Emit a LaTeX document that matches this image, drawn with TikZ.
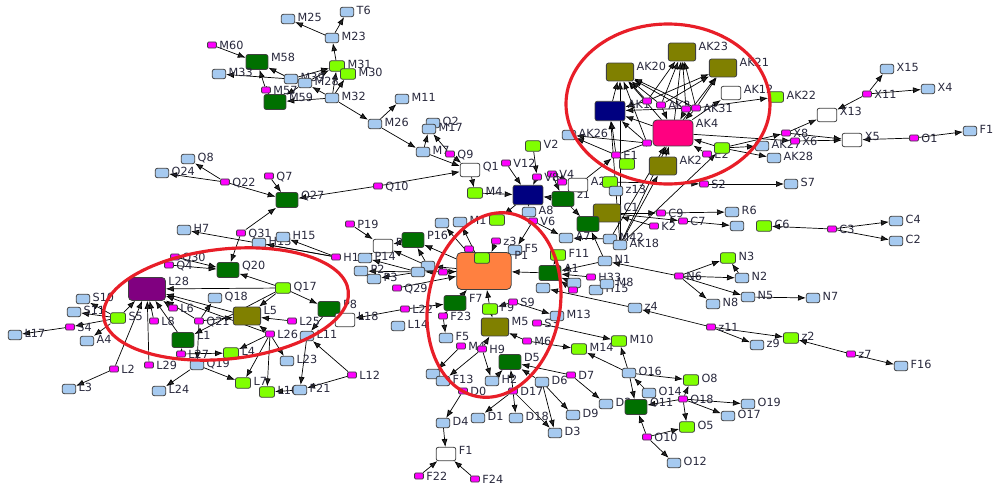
\documentclass[tikz,border=0pt]{standalone}
\usepackage{fontspec}
\setmainfont{DejaVu Sans}
\usetikzlibrary{arrows.meta,backgrounds}

\definecolor{nodeblue}{RGB}{166,202,240}
\definecolor{nodepink}{RGB}{255,0,255}
\definecolor{nodelime}{RGB}{128,255,0}
\definecolor{nodegreen}{RGB}{0,112,0}
\definecolor{nodeolive}{RGB}{128,128,0}
\definecolor{nodenavy}{RGB}{0,0,128}
\definecolor{nodeak}{RGB}{255,0,128}
\definecolor{nodeorange}{RGB}{255,128,64}
\definecolor{nodepurple}{RGB}{128,0,128}
\definecolor{nodeedge}{RGB}{64,64,64}
\definecolor{labtext}{RGB}{40,40,60}
\definecolor{ringred}{RGB}{232,30,40}

\tikzset{
  box/.style={draw=nodeedge, rectangle, rounded corners=1.2pt, inner sep=0pt, line width=0.45pt},
  bl/.style={box, fill=nodeblue, minimum width=7.6pt, minimum height=5.4pt},
  pk/.style={box, fill=nodepink, rounded corners=0.6pt, minimum width=5pt, minimum height=3.5pt},
  lm/.style={box, fill=nodelime, minimum width=8.6pt, minimum height=6pt},
  dg/.style={box, fill=nodegreen, minimum width=12.5pt, minimum height=8.5pt},
  ol/.style={box, fill=nodeolive, minimum width=15.5pt, minimum height=10.2pt},
  wh/.style={box, fill=white, minimum width=11.2pt, minimum height=7.6pt},
  nv/.style={box, fill=nodenavy, minimum width=17pt, minimum height=11pt},
  akp/.style={box, fill=nodeak, rounded corners=2pt, minimum width=22.7pt, minimum height=14.7pt},
  orn/.style={box, fill=nodeorange, rounded corners=2.5pt, minimum width=31pt, minimum height=21pt},
  pu/.style={box, fill=nodepurple, rounded corners=2pt, minimum width=21pt, minimum height=13pt},
  lb/.style={anchor=north west, inner sep=0.3pt, xshift=1pt, yshift=0.8pt,
    font=\fontsize{6.4}{7}\selectfont, text=labtext},
  lab/.style={label={[lb]north east:#1}},
  link/.style={draw=black!85, line width=0.4pt, -{Latex[length=4.5pt,width=3.4pt]}},
  ring/.style={draw=ringred, line width=1.8pt}
}

\begin{document}
\begin{tikzpicture}[x=0.02cm,y=-0.02cm]
  \useasboundingbox (0,0) rectangle (995,487);
  % M and Q nodes, top left
  \draw
    (212,45) node[pk,lab=M60] (m60){}
    (257,62) node[dg,lab=M58] (m58){}
    (219,74) node[bl,lab=M33] (m33){}
    (288,19) node[bl,lab=M25] (m25){}
    (347,12) node[bl,lab=T6] (t6){}
    (332,38) node[bl,lab=M23] (m23){}
    (337,66) node[lm,lab=M31] (m31){}
    (348,74) node[lm,lab=M30] (m30){}
    (291,79) node[bl,lab=M39] (m39){}
    (305,83) node[bl,lab=M28] (m28){}
    (266,90) node[pk,lab=M57] (m57){}
    (275,102) node[dg,lab=M59] (m59){}
    (332,98) node[bl,lab=M32] (m32){}
    (402,99) node[bl,lab=M11] (m11){}
    (375,124) node[bl,lab=M26] (m26){}
    (433,123) node[bl,lab=Q2] (q2){}
    (429,129) node[bl,lab=M17] (m17){}
    (423,152) node[bl,lab=M7] (m7){}
    (450,154) node[pk,lab=Q9] (q9){}
    (470,170) node[wh,lab=Q1] (q1){}
    (475,193) node[lm,lab=M4] (m4){}
    (378,186) node[pk,lab=Q10] (q10){}
    (287,200) node[dg,lab=Q27] (q27){}
    (269,176) node[pk,lab=Q7] (q7){}
    (225,182) node[pk,lab=Q22] (q22){}
    (162,173) node[bl,lab=Q24] (q24){}
    (188,159) node[bl,lab=Q8] (q8){}
    (241,233) node[pk,lab=Q31] (q31){}
    (184,230) node[bl,lab=H7] (h7){}
    (336,257) node[pk,lab=H1] (h1){}
    (259,243) node[bl,lab=H13] (h13){}
    (283,237) node[bl,lab=H15] (h15){};
  % P nodes and centre
  \draw
    (350,224) node[pk,lab=P19] (p19){}
    (383,246) node[wh,lab=P] (pw){}
    (413,240) node[dg,lab=P16] (p16){}
    (365,258) node[bl,lab=P14] (p14){}
    (361,271) node[bl,lab=P2] (p2){}
    (374,279) node[bl,lab=P3] (p3){}
    (397,288) node[pk,lab=Q29] (q29){}
    (428,266) node[bl] (ua){}
    (418,272) node[bl] (ub){}
    (442,223) node[bl] (uc){}
    (460,222) node[bl,lab=M1] (m1){}
    (497,220) node[lm] (ud){}
    (496,241) node[pk,lab=z3] (z3){}
    (469,249) node[pk] (ue){}
    (443,272) node[pk] (ug){}
    (515,250) node[bl,lab=F5] (f5b){}
    (484,271) node[orn,lab=P1] (p1){}
    (482,258) node[lm] (uf){}
    (405,309) node[pk,lab=L22] (l22){}
    (443,316) node[pk,lab=F23] (f23){}
    (455,303) node[dg,lab=F7] (f7){}
    (490,309) node[lm,lab=F9] (f9){}
    (513,302) node[pk,lab=S9] (s9){}
    (495,327) node[ol,lab=M5] (m5){}
    (537,323) node[pk,lab=S3] (s3){}
    (557,316) node[bl,lab=M13] (m13){}
    (398,326) node[bl,lab=L14] (l14){};
  % L and S nodes, left
  \draw
    (283,288) node[lm,lab=Q17] (q17){}
    (329,309) node[dg,lab=P8] (p8){}
    (345,320) node[wh,lab=L18] (l18){}
    (292,321) node[pk,lab=L25] (l25){}
    (247,316) node[ol,lab=L5] (l5){}
    (228,270) node[dg,lab=Q20] (q20){}
    (175,257) node[pk,lab=Q30] (q30){}
    (169,265) node[pk,lab=Q4] (q4){}
    (147,289) node[pu,lab=L28] (l28){}
    (83,299) node[bl,lab=S10] (s10){}
    (74,312) node[bl,lab=S11] (s11){}
    (118,318) node[lm,lab=S5] (s5){}
    (173,308) node[pk,lab=L6] (l6){}
    (154,321) node[pk,lab=L8] (l8){}
    (215,298) node[bl,lab=Q18] (q18){}
    (199,321) node[pk,lab=Q21] (q21){}
    (70,327) node[pk,lab=S4] (s4){}
    (15,335) node[bl,lab=L17] (l17){}
    (87,341) node[bl,lab=A4] (a4){}
    (183,340) node[dg,lab=L1] (l1){}
    (181,354) node[pk,lab=L27] (l27){}
    (231,353) node[lm,lab=L4] (l4){}
    (197,365) node[bl,lab=Q19] (q19){}
    (149,365) node[pk,lab=L29] (l29){}
    (114,369) node[pk,lab=L2] (l2){}
    (69,389) node[bl,lab=L3] (l3){}
    (159,391) node[bl,lab=L24] (l24){}
    (243,383) node[lm,lab=L7] (l7){}
    (267,392) node[lm,lab=L10] (l10){}
    (270,334) node[pk,lab=L26] (l26){}
    (307,336) node[bl,lab=L11] (l11){}
    (287,361) node[bl,lab=L23] (l23){}
    (352,375) node[pk,lab=L12] (l12){}
    (300,390) node[bl,lab=F21] (f21){};
  % D, O and z nodes, bottom
  \draw
    (446,338) node[bl,lab=F5] (f5){}
    (461,346) node[pk,lab=M4] (m4b){}
    (482,349) node[pk,lab=H9] (h9){}
    (433,374) node[bl] (uh){}
    (443,381) node[bl,lab=F13] (f13){}
    (463,391) node[pk,lab=D0] (d0){}
    (443,423) node[bl,lab=D4] (d4){}
    (446,454) node[wh,lab=F1] (f1){}
    (419,476) node[pk,lab=F22] (f22){}
    (475,479) node[pk,lab=F24] (f24){}
    (478,418) node[bl,lab=D1] (d1){}
    (492,381) node[bl,lab=H2] (h2){}
    (527,341) node[pk,lab=M6] (m6){}
    (510,362) node[dg,lab=D5] (d5){}
    (571,375) node[pk,lab=D7] (d7){}
    (606,404) node[bl,lab=D2] (d2){}
    (542,382) node[bl,lab=D6] (d6){}
    (573,415) node[bl,lab=D9] (d9){}
    (555,433) node[bl,lab=D3] (d3){}
    (513,391) node[pk,lab=D17] (d17){}
    (516,418) node[bl,lab=D18] (d18){}
    (579,349) node[lm,lab=M14] (m14){}
    (619,341) node[lm,lab=M10] (m10){}
    (629,373) node[bl,lab=O16] (o16){}
    (636,407) node[dg,lab=O11] (o11){}
    (691,380) node[lm,lab=O8] (o8){}
    (649,393) node[bl,lab=O14] (o14){}
    (683,399) node[pk,lab=O18] (o18){}
    (687,427) node[lm,lab=O5] (o5){}
    (748,404) node[bl,lab=O19] (o19){}
    (728,416) node[bl,lab=O17] (o17){}
    (647,437) node[pk,lab=O10] (o10){}
    (674,463) node[bl,lab=O12] (o12){}
    (711,327) node[pk,lab=z11] (z11){}
    (757,345) node[bl,lab=z9] (z9){}
    (791,338) node[lm,lab=z2] (z2){}
    (851,354) node[pk,lab=z7] (z7){}
    (901,366) node[bl,lab=F16] (f16){}
    (635,308) node[bl,lab=z4] (z4){};
  % V, A, C and N nodes, centre right
  \draw
    (506,163) node[pk,lab=V12] (v12){}
    (533,146) node[lm,lab=V2] (v2){}
    (552,174) node[pk,lab=V4] (v4){}
    (537,177) node[pk,lab=V8] (v8){}
    (562,182) node[pk] (ui){}
    (528,195) node[nv] (nv){}
    (563,199) node[dg,lab=z1] (z1){}
    (578,185) node[wh,lab=A2] (a2){}
    (610,182) node[lm] (uj){}
    (616,191) node[bl,lab=z13] (z13){}
    (529,212) node[bl,lab=A8] (a8){}
    (533,221) node[pk,lab=V6] (v6){}
    (607,213) node[ol,lab=C1] (c1){}
    (588,224) node[dg] (uk){}
    (566,238) node[bl,lab=A7] (a7){}
    (610,239) node[bl,lab=M42] (m42){}
    (620,245) node[bl,lab=AK18] (ak18){}
    (558,255) node[lm,lab=F11] (f11){}
    (605,261) node[bl,lab=N1] (n1){}
    (550,273) node[dg,lab=A1] (a1){}
    (591,277) node[pk,lab=H33] (h33){}
    (574,283) node[bl] (ul){}
    (596,290) node[bl,lab=H15] (h15b){}
    (607,284) node[bl,lab=M8] (m8){}
    (573,290) node[pk] (um){}
    (543,288) node[bl] (un){}
    (661,213) node[pk,lab=C9] (c9){}
    (732,212) node[bl,lab=R6] (r6){}
    (654,226) node[pk,lab=K2] (k2){}
    (683,221) node[pk,lab=C7] (c7){}
    (737,226) node[bl] (uo){}
    (764,226) node[lm,lab=C6] (c6){}
    (832,229) node[pk,lab=C3] (c3){}
    (896,221) node[bl,lab=C4] (c4){}
    (896,241) node[bl,lab=C2] (c2){}
    (704,184) node[pk,lab=S2] (s2){}
    (791,184) node[bl,lab=S7] (s7){}
    (679,276) node[pk,lab=N6] (n6){}
    (728,258) node[lm,lab=N3] (n3){}
    (742,278) node[bl,lab=N2] (n2){}
    (713,304) node[bl,lab=N8] (n8){}
    (748,297) node[bl,lab=N5] (n5){}
    (813,298) node[bl,lab=N7] (n7){};
  % AK and X nodes, top right
  \draw
    (682,52) node[ol,lab=AK23] (ak23){}
    (620,72) node[ol,lab=AK20] (ak20){}
    (723,68) node[ol,lab=AK21] (ak21){}
    (731,93) node[wh,lab=AK12] (ak12){}
    (776,97) node[lm,lab=AK22] (ak22){}
    (610,111) node[nv,lab=AK1] (ak1){}
    (647,101) node[pk] (ua1){}
    (661,105) node[pk,lab=AK3] (ak3){}
    (686,109) node[pk] (ua2){}
    (696,108) node[pk,lab=AK31] (ak31){}
    (673,133) node[akp,lab=AK4] (ak4){}
    (569,135) node[bl,lab=AK26] (ak26){}
    (647,143) node[pk] (ua3){}
    (616,155) node[pk,lab=E1] (e1){}
    (707,154) node[pk,lab=E2] (e2){}
    (722,148) node[lm] (ua4){}
    (762,146) node[bl,lab=AK27] (ak27){}
    (774,158) node[bl,lab=AK28] (ak28){}
    (663,166) node[ol,lab=AK2] (ak2){}
    (627,164) node[lm] (ua5){}
    (786,133) node[pk,lab=X8] (x8){}
    (795,141) node[pk,lab=X6] (x6){}
    (827,115) node[wh,lab=X13] (x13){}
    (867,94) node[pk,lab=X11] (x11){}
    (887,69) node[bl,lab=X15] (x15){}
    (928,89) node[bl,lab=X4] (x4){}
    (852,140) node[wh,lab=X5] (x5){}
    (914,138) node[pk,lab=O1] (o1){}
    (970,131) node[bl,lab=F1] (f1b){};
  \begin{scope}[on background layer,link]
    % top left
    \draw (m60) to (m58);
    \draw (m39) to (m58);
    \draw (m57) to (m58);
    \draw (m39) to (m33);
    \draw (m57) to (m59);
    \draw (m32) to (m59);
    \draw (m28) to (m59);
    \draw (m32) to (m28);
    \draw (m32) to (m31);
    \draw (m32) to (m30);
    \draw (m39) to (m31);
    \draw (m28) to (m31);
    \draw (m31) to (m23);
    \draw (m23) to (m25);
    \draw (m23) to (t6);
    \draw (m32) to (m26);
    \draw (m26) to (m11);
    \draw (m26) to (m7);
    \draw (m7) to (m17);
    \draw (q9) to (m17);
    \draw (m7) to (q1);
    \draw (q9) to (q1);
    \draw (q1) to (m4);
    \draw (q10) to (q27);
    \draw (q10) to (q1);
    \draw (q7) to (q27);
    \draw (q22) to (q27);
    \draw (q22) to (q24);
    \draw (q22) to (q8);
    \draw (q31) to (q27);
    \draw (q31) to (q20);
    \draw (h1) to (h7);
    \draw (h1) to (h15);
    \draw (h1) to (h13);
    \draw (q4) to (q20);
    \draw (q30) to (q20);
    \draw (q17) to (q20);
    % centre
    \draw (p19) to (pw);
    \draw (p16) to (pw);
    \draw (p14) to (pw);
    \draw (ua) to (pw);
    \draw (ua) to (p16);
    \draw (ub) to (p14);
    \draw (ub) to (p2);
    \draw (ub) to (p3);
    \draw (p1) to (p16);
    \draw (p1) to (ua);
    \draw (p1) to (ub);
    \draw (p1) to (uc);
    \draw (p1) to (m1);
    \draw (nv) to (ud);
    \draw (q29) to (p1);
    \draw (ug) to (p1);
    \draw (ue) to (p1);
    \draw (z3) to (p1);
    \draw (v6) to (f5b);
    \draw (l22) to (l18);
    \draw (l22) to (f7);
    \draw (f23) to (f7);
    \draw (f7) to (p1);
    \draw (f9) to (p1);
    \draw (s9) to (f9);
    \draw (s9) to (m13);
    \draw (f23) to (f5);
    \draw (f9) to (m5);
    \draw (h9) to (m5);
    \draw (m6) to (m5);
    \draw (m4b) to (uh);
    \draw (h9) to (f13);
    \draw (h9) to (h2);
    \draw (a1) to (p1);
    \draw (f11) to (a1);
    \draw (n1) to (a1);
    \draw (h33) to (a1);
    \draw (ul) to (a1);
    \draw (um) to (a1);
    \draw (z4) to (un);
    % bottom
    \draw (d0) to (d4);
    \draw (d4) to (f1);
    \draw (f22) to (f1);
    \draw (f24) to (f1);
    \draw (d17) to (d1);
    \draw (d17) to (d18);
    \draw (d17) to (d3);
    \draw (d17) to (d5);
    \draw (d7) to (d5);
    \draw (d6) to (d5);
    \draw (d6) to (d9);
    \draw (d6) to (d3);
    \draw (d7) to (d2);
    \draw (h2) to (d5);
    \draw (s3) to (m10);
    \draw (m6) to (m14);
    \draw (o16) to (m14);
    \draw (o16) to (m10);
    \draw (o16) to (o11);
    \draw (o16) to (o8);
    \draw (o14) to (o16);
    \draw (o18) to (o8);
    \draw (o18) to (o5);
    \draw (o18) to (o11);
    \draw (o18) to (o19);
    \draw (o18) to (o17);
    \draw (o10) to (o11);
    \draw (o10) to (o5);
    \draw (o10) to (o12);
    \draw (z11) to (z9);
    \draw (z11) to (z2);
    \draw (z11) to (z4);
    \draw (z7) to (z2);
    \draw (z7) to (f16);
    % left
    \draw (q17) to (l28);
    \draw (q17) to (p8);
    \draw (q17) to (l5);
    \draw (q17) to (l1);
    \draw (s5) to (l28);
    \draw (l6) to (l28);
    \draw (l8) to (l28);
    \draw (l1) to (l28);
    \draw (l5) to (l28);
    \draw (l29) to (l28);
    \draw (l2) to (l28);
    \draw (l26) to (l28);
    \draw (q21) to (l28);
    \draw (s5) to (s10);
    \draw (s5) to (s11);
    \draw (s5) to (s4);
    \draw (s4) to (l17);
    \draw (s5) to (a4);
    \draw (l2) to (l3);
    \draw (q21) to (q18);
    \draw (q21) to (l5);
    \draw (q21) to (q19);
    \draw (l27) to (l1);
    \draw (l27) to (l4);
    \draw (q19) to (l24);
    \draw (q19) to (l7);
    \draw (l26) to (l5);
    \draw (l26) to (l10);
    \draw (l26) to (l23);
    \draw (l26) to (l7);
    \draw (l26) to (l4);
    \draw (l25) to (l5);
    \draw (l11) to (f21);
    \draw (l12) to (l11);
    \draw (l12) to (f21);
    \draw (f21) to (l10);
    \draw (p8) to (l11);
    % centre right
    \draw (v12) to (nv);
    \draw (v8) to (nv);
    \draw (m4) to (nv);
    \draw (v2) to (v8);
    \draw (v4) to (a2);
    \draw (ui) to (a2);
    \draw (v4) to (z1);
    \draw (nv) to (a8);
    \draw (z1) to (nv);
    \draw (v6) to (a7);
    \draw (z1) to (uk);
    \draw (uj) to (z13);
    \draw (c1) to (c9);
    \draw (c9) to (r6);
    \draw (c1) to (c7);
    \draw (c7) to (uo);
    \draw (c3) to (c6);
    \draw (c3) to (c4);
    \draw (c3) to (c2);
    \draw (k2) to (c1);
    \draw (n1) to (uk);
    \draw (m42) to (a7);
    \draw (n6) to (n1);
    \draw (n6) to (n3);
    \draw (n6) to (n2);
    \draw (n6) to (n8);
    \draw (n6) to (n5);
    \draw (n5) to (n7);
    \draw (n2) to (n3);
    \draw (uj) to (s2);
    \draw (s2) to (s7);
    \draw (a2) to (e1);
    % AK ring
    \draw (ak18) to (ak4);
    \draw (ak18) to (ak2);
    \draw (ak18) to (ak20);
    \draw (ak18) to (ak1);
    \draw (ak18) to (ua4);
    \draw (m42) to (ak4);
    \draw (ak4) to (ak20);
    \draw (ak4) to (ak23);
    \draw (ak4) to (ak21);
    \draw (ak4) to (ak12);
    \draw (ak4) to (ak1);
    \draw (ua1) to (ak20);
    \draw (ua1) to (ak23);
    \draw (ua1) to (ak21);
    \draw (ua1) to (ak1);
    \draw (ak3) to (ak23);
    \draw (ak3) to (ak20);
    \draw (ak3) to (ak21);
    \draw (ak3) to (ak4);
    \draw (ua2) to (ak23);
    \draw (ua2) to (ak20);
    \draw (ua2) to (ak4);
    \draw (ak31) to (ak21);
    \draw (ak31) to (ak23);
    \draw (ak31) to (ak20);
    \draw (ak31) to (ak4);
    \draw (ak31) to (ak22);
    \draw (ak31) to (ak1);
    \draw (ak1) to (ak20);
    \draw (e1) to (ak1);
    \draw (e1) to (ak26);
    \draw (e1) to (ak4);
    \draw (ua3) to (ak1);
    \draw (ua3) to (ak4);
    \draw (ua3) to (ak26);
    \draw (ua3) to (ak20);
    \draw (e2) to (ak4);
    \draw (ua4) to (ak4);
    \draw (ua4) to (ak27);
    \draw (ua4) to (ak28);
    \draw (ak2) to (ak4);
    \draw (e1) to (ua5);
    \draw (ua4) to (x8);
    \draw (ak4) to (x6);
    \draw (x8) to (x13);
    \draw (x11) to (x13);
    \draw (x11) to (x15);
    \draw (x11) to (x4);
    \draw (x6) to (x5);
    \draw (x8) to (x5);
    \draw (o1) to (x5);
    \draw (o1) to (f1b);
  \end{scope}
  % red rings
  \draw[ring] (668,104) ellipse [x radius=102, y radius=80];
  \draw[ring] (494,305) ellipse [x radius=66, y radius=93, rotate=-10];
  \draw[ring] (226,304) ellipse [x radius=123, y radius=55, rotate=6];
\end{tikzpicture}
\end{document}
